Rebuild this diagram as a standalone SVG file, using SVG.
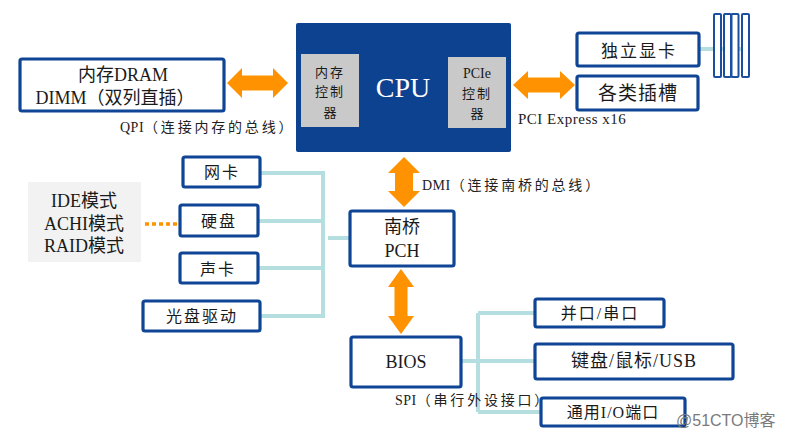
<svg xmlns="http://www.w3.org/2000/svg" width="785" height="439" viewBox="0 0 785 439">
<style>
.box{fill:#fff;stroke:#0F4594;stroke-width:3.2}
.inner{fill:#C9C9C9;stroke:none}
.t{font-family:"Liberation Serif","Noto Sans CJK SC",serif;fill:#1a1a1a;text-anchor:middle}
.lbl{font-family:"Liberation Serif","Noto Sans CJK SC",serif;fill:#222;font-size:14px;letter-spacing:2.8px}
.lat{letter-spacing:0.5px}
.link{stroke:#B5DEE1;stroke-width:4;fill:none}
.arr{fill:#FF9200}
.slot{fill:#fff;stroke:#1A4FA0;stroke-width:2}
</style>
<rect width="785" height="439" fill="#fff"/>

<g id="connectors">
  <line class="link" x1="699" y1="49" x2="744" y2="49"/>
  <polyline class="link" points="260,173 323,173"/>
  <polyline class="link" points="258,221 323,221"/>
  <polyline class="link" points="258,268 323,268"/>
  <polyline class="link" points="260,316 323,316"/>
  <line class="link" x1="323" y1="171" x2="323" y2="318"/>
  <line class="link" x1="328" y1="238" x2="350" y2="238"/>
  <line class="link" x1="461" y1="361" x2="535" y2="361"/>
  <line class="link" x1="478" y1="313" x2="478" y2="412"/>
  <line class="link" x1="478" y1="313" x2="535" y2="313"/>
  <line class="link" x1="478" y1="412" x2="541" y2="412"/>
  <line x1="145" y1="224" x2="180" y2="224" stroke="#FF9200" stroke-width="3.5" stroke-dasharray="4,3"/>
  <path class="arr" d="M227,83 L242,68 L242,75.5 L273,75.5 L273,68 L288,83 L273,98 L273,90.5 L242,90.5 L242,98 Z"/>
  <path class="arr" d="M513,85 L528,71 L528,77.5 L560,77.5 L560,71 L575,85 L560,99 L560,92.5 L528,92.5 L528,99 Z"/>
  <path class="arr" d="M404,157 L420,173 L413,173 L413,191 L420,191 L404,207 L388,191 L395,191 L395,173 L388,173 Z"/>
  <path class="arr" d="M401,269 L414,287 L407.5,287 L407.5,316 L414,316 L401,334 L388,316 L394.5,316 L394.5,287 L388,287 Z"/>
  <text class="lbl" x="120" y="132"><tspan class="lat">QPI</tspan>（连接内存的总线）</text>
  <text class="lbl" x="518" y="124" style="letter-spacing:0.5px;font-size:15px">PCI Express x16</text>
  <text class="lbl" x="422" y="190"><tspan class="lat">DMI</tspan>（连接南桥的总线）</text>
  <text class="lbl" x="395" y="405"><tspan class="lat">SPI</tspan>（串行外设接口）</text>
</g>

<g id="cpu">
  <rect x="296" y="23" width="215" height="129" rx="2" fill="#0D4290"/>
  <text class="t" x="403" y="97" style="fill:#fff;font-size:28px">CPU</text>
</g>
<g id="mem-ctrl">
  <rect class="inner" x="301" y="54" width="58" height="73"/>
  <text class="t" x="330" y="77" style="font-size:13px;letter-spacing:2px">内存</text>
  <text class="t" x="330" y="96" style="font-size:13px;letter-spacing:2px">控制</text>
  <text class="t" x="330" y="117" style="font-size:13px">器</text>
</g>
<g id="pcie-ctrl">
  <rect class="inner" x="448" y="57" width="58" height="71"/>
  <text class="t" x="477" y="78" style="font-size:14px">PCIe</text>
  <text class="t" x="477" y="98" style="font-size:13px;letter-spacing:2px">控制</text>
  <text class="t" x="477" y="118" style="font-size:13px">器</text>
</g>
<g id="dram">
  <rect class="box" x="20" y="59" width="204" height="52" rx="2"/>
  <text class="t" x="123" y="81" style="font-size:18px">内存DRAM</text>
  <text class="t" x="115" y="104" style="font-size:18px">DIMM（双列直插）</text>
</g>
<g id="gpu">
  <rect class="box" x="577" y="33" width="122" height="33" rx="2"/>
  <text class="t" x="639" y="57" style="font-size:17px;letter-spacing:2px">独立显卡</text>
</g>
<g id="slots">
  <rect class="box" x="577" y="76" width="121" height="34" rx="2"/>
  <text class="t" x="638" y="100" style="font-size:19px;letter-spacing:1px">各类插槽</text>
</g>
<g id="pcie-slots">
  <rect class="slot" x="714" y="14" width="7" height="63" rx="1"/>
  <rect class="slot" x="724" y="14" width="7" height="63" rx="1"/>
  <rect class="slot" x="731.5" y="14" width="7" height="63" rx="1"/>
  <rect class="slot" x="742" y="14" width="7" height="63" rx="1"/>
</g>
<g id="pch">
  <rect class="box" x="350" y="211" width="104" height="55" rx="2"/>
  <text class="t" x="402" y="233" style="font-size:18px">南桥</text>
  <text class="t" x="402" y="257" style="font-size:18px">PCH</text>
</g>
<g id="nic">
  <rect class="box" x="183" y="157" width="77" height="30" rx="2"/>
  <text class="t" x="222" y="178" style="font-size:16px;letter-spacing:2px">网卡</text>
</g>
<g id="hdd">
  <rect class="box" x="180" y="205" width="78" height="31" rx="2"/>
  <text class="t" x="219" y="227" style="font-size:16px;letter-spacing:2px">硬盘</text>
</g>
<g id="sound">
  <rect class="box" x="180" y="253" width="78" height="30" rx="2"/>
  <text class="t" x="218" y="275" style="font-size:16px;letter-spacing:2px">声卡</text>
</g>
<g id="odd">
  <rect class="box" x="143" y="301" width="117" height="30" rx="2"/>
  <text class="t" x="202" y="322" style="font-size:16px;letter-spacing:2px">光盘驱动</text>
</g>
<g id="modes">
  <rect x="28" y="182" width="113" height="80" fill="#F2F2F2"/>
  <text class="t" x="84" y="207" style="font-size:18px">IDE模式</text>
  <text class="t" x="84" y="230" style="font-size:18px">ACHI模式</text>
  <text class="t" x="84" y="252" style="font-size:18px">RAID模式</text>
</g>
<g id="bios">
  <rect class="box" x="351" y="337" width="110" height="50" rx="2"/>
  <text class="t" x="406" y="368" style="font-size:18px">BIOS</text>
</g>
<g id="parallel">
  <rect class="box" x="535" y="299" width="129" height="28" rx="2"/>
  <text class="t" x="600" y="319" style="font-size:16px;letter-spacing:2px">并口/串口</text>
</g>
<g id="kbd">
  <rect class="box" x="535" y="344" width="198" height="35" rx="2"/>
  <text class="t" x="634" y="367" style="font-size:18px;letter-spacing:1px">键盘/鼠标/USB</text>
</g>
<g id="gpio">
  <rect class="box" x="541" y="398" width="144" height="28" rx="2"/>
  <text class="t" x="613" y="418" style="font-size:16px;letter-spacing:1px">通用I/O端口</text>
</g>
<text x="676" y="426" style="font-family:'Liberation Sans','Noto Sans CJK SC',sans-serif;font-size:16px;fill:#7A7A7A">@51CTO博客</text>
</svg>
